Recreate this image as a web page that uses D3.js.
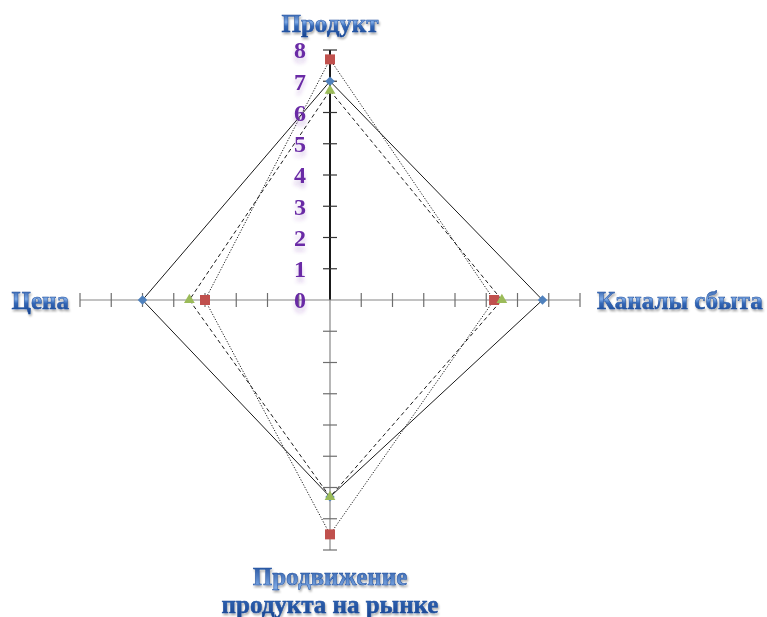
<!DOCTYPE html>
<html>
<head>
<meta charset="utf-8">
<script src="https://cdn.jsdelivr.net/npm/d3@7"></script>
<style>
  html, body { margin: 0; padding: 0; background: #fff; }
  svg { display: block; }
  .cat { font-family: "Liberation Serif", "DejaVu Serif", serif; font-weight: bold; font-size: 25px; }
  .num { font-family: "Liberation Serif", "DejaVu Serif", serif; font-weight: bold; font-size: 24px; fill: #6a2ca6; }
</style>
</head>
<body>
<svg width="767" height="617"></svg>
<script>
const categories = ["Продукт", "Каналы сбыта", "Продвижение продукта на рынке", "Цена"];
const series1 = [7, 6.8, 6.3, 6];      // blue, diamonds, solid
const series2 = [7.7, 5.25, 7.5, 4];   // red, squares, dotted
const series3 = [6.7, 5.5, 6.3, 4.5];  // green, triangles, dashed
const tickValues = [0, 1, 2, 3, 4, 5, 6, 7, 8];

const center = {x: 330, y: 300};
const svg = d3.select('svg');

const defs = svg.append('defs');
const grad = defs.append('linearGradient')
    .attr('id', 'blueText')
    .attr('x1', 0).attr('y1', 0).attr('x2', 0).attr('y2', 1);
grad.append('stop').attr('offset', '0%').attr('stop-color', '#1a4896');
grad.append('stop').attr('offset', '45%').attr('stop-color', '#7eaae6');
grad.append('stop').attr('offset', '60%').attr('stop-color', '#3468b8');
grad.append('stop').attr('offset', '100%').attr('stop-color', '#17438e');

const refl = defs.append('filter').attr('id', 'refl')
    .attr('x', '-20%').attr('y', '-20%').attr('width', '140%').attr('height', '180%');
refl.append('feOffset').attr('in', 'SourceGraphic').attr('dy', 5).attr('result', 'off');
refl.append('feGaussianBlur').attr('in', 'off').attr('stdDeviation', 2).attr('result', 'blur');
refl.append('feComponentTransfer').attr('in', 'blur').attr('result', 'fade')
    .append('feFuncA').attr('type', 'linear').attr('slope', 0.25);
const merge = refl.append('feMerge');
merge.append('feMergeNode').attr('in', 'fade');
merge.append('feMergeNode').attr('in', 'SourceGraphic');

const catShadow = defs.append('filter').attr('id', 'catShadow')
    .attr('x', '-10%').attr('y', '-30%').attr('width', '120%').attr('height', '160%');
catShadow.append('feGaussianBlur').attr('in', 'SourceAlpha').attr('stdDeviation', 1.2).attr('result', 'b');
catShadow.append('feOffset').attr('in', 'b').attr('dx', 1).attr('dy', 1.5).attr('result', 'o');
catShadow.append('feComponentTransfer').attr('in', 'o').attr('result', 'f')
    .append('feFuncA').attr('type', 'linear').attr('slope', 0.35);
const m2 = catShadow.append('feMerge');
m2.append('feMergeNode').attr('in', 'f');
m2.append('feMergeNode').attr('in', 'SourceGraphic');

const scaleR = d3.scaleLinear().domain([0, 8]).range([0, 250]);
const angle = i => i * Math.PI / 2;   // 0 = up, clockwise

const g = svg.append('g').attr('transform', `translate(${center.x}, ${center.y})`);

// axis arms with crossing ticks
categories.forEach((c, i) => {
    const a = angle(i);
    const dx = Math.sin(a), dy = -Math.cos(a);
    const isValueAxis = i === 0;
    g.append('line')
        .attr('x1', 0).attr('y1', 0)
        .attr('x2', dx * scaleR(8)).attr('y2', dy * scaleR(8))
        .attr('stroke', isValueAxis ? '#000' : '#868686')
        .attr('stroke-width', isValueAxis ? 1.8 : 1.2);
    tickValues.slice(1).forEach(v => {
        const px = dx * scaleR(v), py = dy * scaleR(v);
        g.append('line')
            .attr('x1', px - dy * 7).attr('y1', py + dx * 7)
            .attr('x2', px + dy * 7).attr('y2', py - dx * 7)
            .attr('stroke', isValueAxis ? '#333' : '#6e6e6e')
            .attr('stroke-width', 1.2);
    });
});

// series polygons
const radial = d3.lineRadial()
    .angle((d, i) => angle(i))
    .radius(d => scaleR(d))
    .curve(d3.curveLinearClosed);

const seriesList = [
    {values: series1, color: '#4f81bd', dash: null, shape: d3.symbolSquare, size: 45, rot: 45},
    {values: series2, color: '#c0504d', dash: '1.2,1.6', shape: d3.symbolSquare, size: 100, rot: 0},
    {values: series3, color: '#9bbb59', dash: '4,3', shape: d3.symbolTriangle, size: 50, rot: 0}
];

seriesList.forEach(s => {
    g.append('path')
        .attr('d', radial(s.values))
        .attr('fill', 'none')
        .attr('stroke', '#1a1a1a')
        .attr('stroke-width', 1)
        .attr('stroke-dasharray', s.dash);
});

seriesList.forEach(s => {
    g.selectAll(null)
        .data(s.values)
        .enter()
        .append('path')
        .attr('d', d3.symbol().type(s.shape).size(s.size))
        .attr('transform', (d, i) => {
            const a = angle(i);
            return `translate(${Math.sin(a) * scaleR(d)}, ${-Math.cos(a) * scaleR(d)}) rotate(${s.rot})`;
        })
        .attr('fill', s.color);
});

// value tick labels
g.selectAll('text.num')
    .data(tickValues)
    .enter()
    .append('text')
    .classed('num', true)
    .attr('x', -30)
    .attr('y', d => -scaleR(d))
    .attr('dy', '0.35em')
    .attr('text-anchor', 'middle')
    .attr('filter', 'url(#refl)')
    .text(d => d);

// category labels
const catPos = [
    {x: 330, y: 32, anchor: 'middle'},
    {x: 597, y: 309, anchor: 'start'},
    {x: 330, y: 585, anchor: 'middle'},
    {x: 69, y: 309, anchor: 'end'}
];

categories.forEach((c, i) => {
    const p = catPos[i];
    const t = svg.append('text')
        .classed('cat', true)
        .attr('x', p.x).attr('y', p.y)
        .attr('text-anchor', p.anchor)
        .attr('fill', 'url(#blueText)')
        .attr('stroke', '#1f4f9e')
        .attr('stroke-width', 0.5)
        .attr('filter', 'url(#catShadow)');
    if (i === 2) {
        t.append('tspan').attr('x', p.x).text('Продвижение');
        t.append('tspan').attr('x', p.x).attr('dy', 28).text('продукта на рынке');
    } else {
        t.text(c);
    }
});
</script>
</body>
</html>
